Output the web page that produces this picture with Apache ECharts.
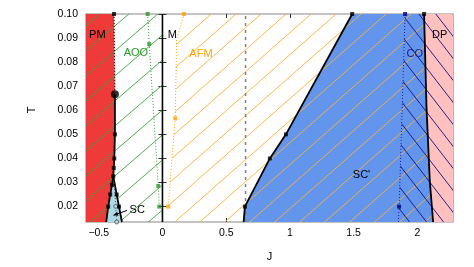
<!DOCTYPE html>
<html><head><meta charset="utf-8">
<script src="https://cdn.jsdelivr.net/npm/echarts@6/dist/echarts.min.js"></script>
<style>html,body{margin:0;padding:0;background:#fff}#c{width:474px;height:267px}</style>
</head><body><div id="c"></div>
<script>
// ---- axis ranges and ticks ----
const J_MIN = -0.6, J_MAX = 2.28, T_MIN = 0.0136, T_MAX = 0.10;
const xTickValues = [-0.5, 0, 0.5, 1, 1.5, 2];
const yTickValues = [0.02, 0.03, 0.04, 0.05, 0.06, 0.07, 0.08, 0.09, 0.10];

// ---- phase boundaries (J, T) ----
const pmDottedJ = [-0.380, -0.373];
const pmDottedT = [0.100, 0.0667];
const pmSolidJ = [-0.373, -0.373, -0.378, -0.382, -0.386, -0.396, -0.410, -0.426, -0.441];
const pmSolidT = [0.0667, 0.050, 0.040, 0.036, 0.0326, 0.029, 0.025, 0.020, 0.0136];
const scRightJ = [-0.386, -0.359, -0.341, -0.318];
const scRightT = [0.0326, 0.025, 0.020, 0.0136];
const scInnerJ = [-0.380, -0.367, -0.359];
const scInnerT = [0.031, 0.0201, 0.0136];

const scpJ = [0.637, 0.647, 0.843, 0.969, 1.489];
const scpT = [0.0136, 0.020, 0.040, 0.050, 0.100];
const dpJ = [2.053, 2.072, 2.098, 2.124];
const dpT = [0.100, 0.0614, 0.0305, 0.0136];

const aooJ = [-0.116, -0.104, -0.033, -0.025];
const aooT = [0.100, 0.0875, 0.0286, 0.020];
const afmJ = [0.169, 0.111, 0.100, 0.045];
const afmT = [0.100, 0.0895, 0.0567, 0.020];
const afmMarkerIdx = [0, 2, 3];
const coJ = [1.904, 1.857];
const coT = [0.100, 0.020];

const mLineJ = 0;
const dashedJ = 0.652;

const labelTexts = ['PM', 'AOO', 'M', 'AFM', "SC'", 'CO', 'DP', 'SC'];
const labelJ = [-0.511, -0.208, 0.077, 0.302, 1.562, 1.980, 2.176, -0.198];
const labelT = [0.0912, 0.0838, 0.0912, 0.0835, 0.0333, 0.0835, 0.0912, 0.0185];
const labelColors = ['#000', '#2a9a2a', '#000', '#ffa500', '#000', '#1c1c8c', '#000', '#000'];
const arrowJ = [-0.278, -0.384];
const arrowT = [0.0184, 0.0164];

// ---- helpers ----
const zip = (a, b) => a.map((v, i) => [v, b[i]]);
const FONT = "'Liberation Sans', Arial, sans-serif";

function hatch(color, W, H, dir, lw, ox, oy) {
  const c = document.createElement('canvas');
  c.width = W; c.height = H;
  const g = c.getContext('2d');
  g.strokeStyle = color; g.lineWidth = lw;
  g.beginPath();
  for (let k = -1; k <= 1; k++) {
    if (dir === '/') { g.moveTo(k * W, H); g.lineTo(k * W + W, 0); }
    else { g.moveTo(k * W, 0); g.lineTo(k * W + W, H); }
  }
  g.stroke();
  return { image: c, repeat: 'repeat', x: ox || 0, y: oy || 0 };
}

function polySeries(pts, style) {
  return {
    type: 'custom', silent: true, clip: true, z: 1,
    data: [[J_MIN, T_MIN]],
    renderItem: (p, api) => ({
      type: 'polygon',
      shape: { points: pts.map(q => api.coord(q)) },
      style: style
    })
  };
}
function lineSeries(data, color, width, type, z) {
  return { type: 'line', data, symbol: 'none', silent: true, z: z || 3,
    lineStyle: { color, width, type: type || 'solid' }, animation: false };
}
function markerSeries(data, color, symbol, size, extra) {
  return Object.assign({ type: 'scatter', data, symbol, symbolSize: size, silent: true, z: 4,
    itemStyle: { color }, animation: false }, extra || {});
}

// ---- polygons ----
const pmPoly = [[J_MIN, T_MAX]].concat(zip(pmDottedJ, pmDottedT), zip(pmSolidJ, pmSolidT).slice(1), [[J_MIN, T_MIN]]);
const greenPoly = [[J_MIN, T_MIN], [J_MIN, T_MAX], [mLineJ, T_MAX], [mLineJ, T_MIN]];
const apexIdx = pmSolidT.indexOf(0.0326);
const scPoly = zip(pmSolidJ, pmSolidT).slice(apexIdx).concat(zip(scRightJ, scRightT).reverse());
const dpPts = zip(dpJ, dpT);
const scpPoly = zip(scpJ, scpT).concat(dpPts);
const dpPoly = dpPts.concat([[J_MAX, T_MIN], [J_MAX, T_MAX]]);
const afmPts = zip(afmJ, afmT);
const orangePoly = afmPts.concat([[afmJ[afmJ.length - 1] - 0.006, T_MIN]], dpPts.slice().reverse());
const coLine = zip(coJ, coT).concat([[coJ[1] - 0.005, T_MIN]]);
const navyPoly = coLine.concat([[J_MAX, T_MIN], [J_MAX, T_MAX]]);

const chart = echarts.init(document.getElementById('c'), null, { renderer: 'canvas' });

const tickStyle = { color: '#333', width: 1 };
const option = {
  animation: false,
  backgroundColor: '#fff',
  grid: { left: 86, top: 14, right: 21, bottom: 38, show: true, borderColor: '#888', borderWidth: 1.2, backgroundColor: 'transparent' },
  xAxis: [
    { type: 'value', min: J_MIN, max: J_MAX, position: 'bottom',
      name: 'J', nameLocation: 'middle', nameGap: 29,
      nameTextStyle: { fontFamily: FONT, fontSize: 11, color: '#000' },
      axisLine: { show: false },
      axisTick: { show: true, inside: true, length: 4, customValues: xTickValues, lineStyle: tickStyle },
      axisLabel: { customValues: xTickValues, margin: 6, fontFamily: FONT, fontSize: 10.5, color: '#000',
        formatter: v => String(v).replace('-', '\u2212') },
      splitLine: { show: false } },
    { type: 'value', min: J_MIN, max: J_MAX, position: 'top',
      axisLine: { show: false },
      axisTick: { show: true, inside: true, length: 4, customValues: xTickValues, lineStyle: tickStyle },
      axisLabel: { show: false }, splitLine: { show: false } }
  ],
  yAxis: [
    { type: 'value', min: T_MIN, max: T_MAX, position: 'left',
      axisLine: { show: false },
      axisTick: { show: true, inside: true, length: 4, customValues: yTickValues, lineStyle: tickStyle },
      axisLabel: { customValues: yTickValues, margin: 8, fontFamily: FONT, fontSize: 10.5, color: '#000',
        formatter: v => v.toFixed(2) },
      splitLine: { show: false } },
    { type: 'value', min: T_MIN, max: T_MAX, position: 'right',
      axisLine: { show: false },
      axisTick: { show: true, inside: true, length: 4, customValues: yTickValues, lineStyle: tickStyle },
      axisLabel: { show: false }, splitLine: { show: false } }
  ],
  graphic: [{ type: 'text', x: 32, y: 110, rotation: Math.PI / 2,
    style: { text: 'T', fontFamily: FONT, fontSize: 11, fill: '#000', align: 'center', verticalAlign: 'middle' } }],
  series: [
    polySeries(pmPoly, { fill: '#ef3a3a' }),
    polySeries(greenPoly, { fill: hatch('#3aa33a', 29, 25, '/', 0.9, 0, 0) }),
    polySeries(scPoly, { fill: '#add8e6' }),
    polySeries(scpPoly, { fill: '#6495ed' }),
    polySeries(dpPoly, { fill: '#ffc0c0' }),
    polySeries(orangePoly, { fill: hatch('#f8b035', 25, 22, '/', 0.9, 2, 0) }),
    polySeries(navyPoly, { fill: hatch('#101088', 17, 22, '\\', 0.9, 0, 0) }),

    lineSeries([[dashedJ, T_MIN], [dashedJ, T_MAX]], '#808080', 1.5, [3, 4]),
    lineSeries([[mLineJ, T_MIN], [mLineJ, T_MAX]], '#000', 1.6),
    lineSeries(zip(aooJ, aooT), '#2e9a2e', 1, [1, 2]),
    markerSeries(zip(aooJ, aooT), '#2e9a2e', 'rect', 4),
    lineSeries(afmPts, '#ffa500', 1, [1, 2]),
    markerSeries(afmMarkerIdx.map(i => afmPts[i]), '#ffa500', 'rect', 4),
    lineSeries(coLine, '#1c1cb0', 1, [1, 2]),
    markerSeries(zip(coJ, coT), '#000080', 'rect', 4),

    lineSeries(zip(pmDottedJ, pmDottedT), '#000', 1, [1, 2]),
    lineSeries(zip(pmSolidJ, pmSolidT), '#000', 1.8),
    lineSeries(zip(scRightJ, scRightT), '#000', 1.8),
    lineSeries(zip(scpJ, scpT), '#000', 1.8),
    lineSeries(dpPts, '#000', 1.8),
    lineSeries(zip(scInnerJ, scInnerT), '#555', 1, [1, 2]),
    markerSeries(zip(scInnerJ, scInnerT).slice(1), '#fff', 'circle', 4, { itemStyle: { color: '#add8e6', borderColor: '#555', borderWidth: 1 } }),
    markerSeries([[pmDottedJ[0], pmDottedT[0]]].concat(zip(pmSolidJ, pmSolidT).slice(1, -1)), '#000', 'rect', 4),
    markerSeries(zip(scRightJ, scRightT).slice(1, -1), '#000', 'rect', 4),
    markerSeries(zip(scpJ, scpT).slice(1), '#000', 'rect', 4),
    markerSeries([dpPts[0]], '#000', 'rect', 4),
    markerSeries([[pmDottedJ[1], pmDottedT[1]]], '#000', 'circle', 8),

    { type: 'custom', silent: true, z: 6, clip: false,
      data: labelTexts.map((t, i) => [labelJ[i], labelT[i]]),
      renderItem: (p, api) => {
        const i = p.dataIndex;
        const pt = api.coord([labelJ[i], labelT[i]]);
        return { type: 'text', x: pt[0], y: pt[1],
          style: { text: labelTexts[i], fill: labelColors[i], fontFamily: FONT, fontSize: 11, align: 'center', verticalAlign: 'middle' } };
      } },
    { type: 'custom', silent: true, z: 6, clip: false,
      data: [[arrowJ[0], arrowT[0]]],
      renderItem: (p, api) => {
        const a = api.coord([arrowJ[0], arrowT[0]]);
        const b = api.coord([arrowJ[1], arrowT[1]]);
        const ang = Math.atan2(b[1] - a[1], b[0] - a[0]);
        const L = 5, w = 0.45;
        const h1 = [b[0] - L * Math.cos(ang - w), b[1] - L * Math.sin(ang - w)];
        const h2 = [b[0] - L * Math.cos(ang + w), b[1] - L * Math.sin(ang + w)];
        return { type: 'group', children: [
          { type: 'line', shape: { x1: a[0], y1: a[1], x2: b[0], y2: b[1] }, style: { stroke: '#000', lineWidth: 1 } },
          { type: 'polygon', shape: { points: [b, h1, h2] }, style: { fill: '#000' } }
        ] };
      } }
  ]
};
chart.setOption(option);
</script>
</body></html>
